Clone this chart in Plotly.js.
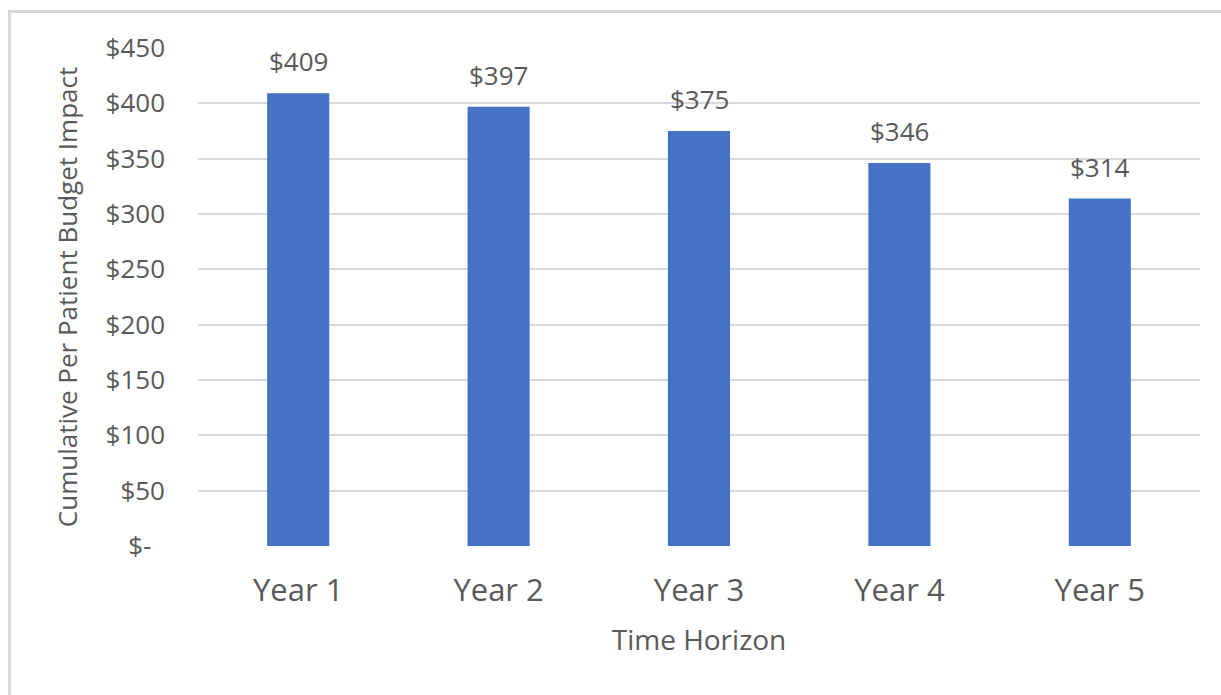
<!DOCTYPE html>
<html>
<head>
<meta charset="utf-8">
<script src="https://cdn.plot.ly/plotly-3.0.1.min.js"></script>
<style>
  html, body { margin: 0; padding: 0; background: #ffffff; }
  #frame {
    position: absolute; left: 8px; top: 10px; width: 1240px; height: 720px;
    border: 3px solid #D9D9D9; box-sizing: border-box;
  }
  #chart { position: absolute; left: 0; top: 0; width: 1221px; height: 695px; }
</style>
</head>
<body>
<div id="frame"></div>
<div id="chart"></div>
<script>
// Cumulative per-patient budget impact by time horizon
const categories = ["Year 1", "Year 2", "Year 3", "Year 4", "Year 5"];
const impact = [409, 397, 375, 346, 314];
const tickValues = [0, 50, 100, 150, 200, 250, 300, 350, 400, 450];
const tickLabels = ["$-\u00a0\u00a0", "$50", "$100", "$150", "$200", "$250", "$300", "$350", "$400", "$450"];

const FONT = "'Open Sans', Lato, sans-serif";
const GREY = "#595959";

const trace = {
  type: "bar",
  x: categories,
  y: impact,
  marker: { color: "#4472C4" },
  hoverinfo: "x+y"
};

// value labels above each bar
const labels = categories.map((c, i) => ({
  x: c, y: impact[i], xref: "x", yref: "y",
  text: "$" + impact[i],
  showarrow: false, yanchor: "bottom", yshift: 12,
  font: { family: FONT, size: 26, color: GREY }
}));

const layout = {
  width: 1221, height: 695,
  margin: { l: 198, r: 21, t: 48, b: 149 },
  paper_bgcolor: "rgba(0,0,0,0)",
  plot_bgcolor: "rgba(0,0,0,0)",
  bargap: 0.69,
  showlegend: false,
  font: { family: FONT, color: GREY },
  xaxis: {
    type: "category",
    showgrid: false, zeroline: false,
    showline: false, ticks: "",
    tickfont: { family: FONT, size: 31, color: GREY },
    ticklabelstandoff: 23,
    title: { text: "Time Horizon", font: { family: FONT, size: 28, color: GREY }, standoff: 21 }
  },
  yaxis: {
    range: [0, 450],
    tickvals: tickValues, ticktext: tickLabels,
    showgrid: true, gridcolor: "#D9D9D9", gridwidth: 2,
    zeroline: false, showline: false, ticks: "",
    tickfont: { family: FONT, size: 26, color: GREY },
    ticklabelstandoff: 32,
    title: { text: "Cumulative Per Patient Budget Impact", font: { family: FONT, size: 26, color: GREY }, standoff: 20 }
  },
  annotations: labels
};

Plotly.newPlot("chart", [trace], layout, { displayModeBar: false, staticPlot: true });
</script>
</body>
</html>
